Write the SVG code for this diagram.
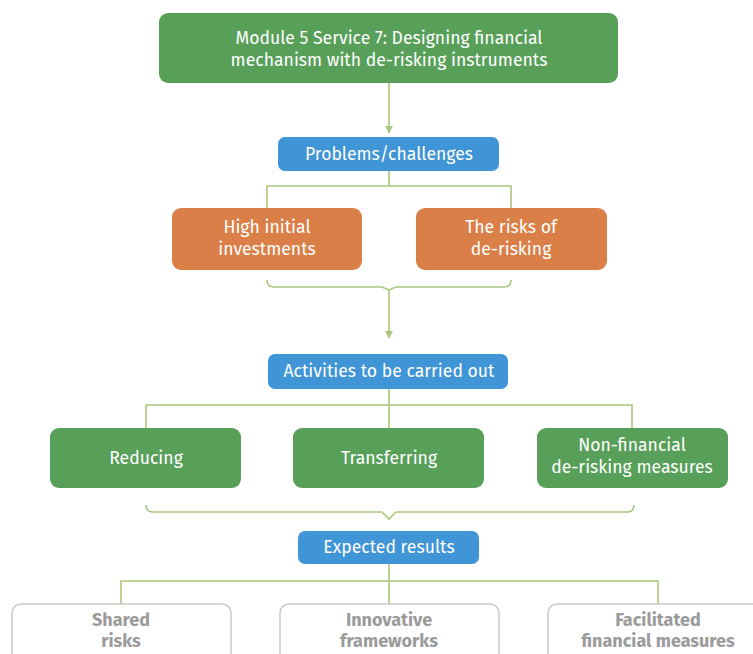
<svg xmlns="http://www.w3.org/2000/svg" width="753" height="654" viewBox="0 0 753 654">
  <defs>
    <style>
      .green { fill: #58a05a; }
      .blue { fill: #3f95d5; }
      .orange { fill: #da7f48; }
      .result { fill: #ffffff; stroke: #c9c9c9; stroke-width: 1.5; }
      .lbl { font-family: "Fira Sans", "Open Sans", "Noto Sans", sans-serif; font-size: 17.6px; fill: #ffffff; text-anchor: middle; }
      .rlbl { font-family: "Fira Sans", "Open Sans", "Noto Sans", sans-serif; font-size: 18px; font-weight: bold; fill: #9b9b9b; text-anchor: middle; }
      .conn { fill: none; stroke: #a9c77c; stroke-width: 1.6; }
    </style>
    <marker id="arrow" viewBox="0 0 10 10" refX="9" refY="5" markerWidth="5" markerHeight="5" orient="auto">
      <path d="M0,0 L10,5 L0,10 z" fill="#a9c77c"/>
    </marker>
  </defs>

  <g id="connectors">
    <line class="conn" x1="389" y1="83" x2="389" y2="133" marker-end="url(#arrow)"/>
    <path class="conn" d="M389,171 V186 M267,208 V186 H511 V208"/>
    <path class="conn" d="M267,280 Q267,287 274,287 H382 L389,290 L396,287 H504 Q511,287 511,280"/>
    <line class="conn" x1="389" y1="290" x2="389" y2="338" marker-end="url(#arrow)"/>
    <path class="conn" d="M389,389 V405 M146,428 V405 H632 V428 M389,405 V428"/>
    <path class="conn" d="M146,505 Q146,512 153,512 H382 L389,519 L396,512 H627 Q634,512 634,505"/>
    <path class="conn" d="M389,564 V581 M121,604 V581 H658 V604 M389,581 V604"/>
  </g>

  <g id="module">
    <rect class="green" x="159" y="13" width="459" height="70" rx="9"/>
    <text class="lbl" x="389" y="44">Module 5 Service 7: Designing financial</text>
    <text class="lbl" x="389" y="66">mechanism with de-risking instruments</text>
  </g>

  <g id="problems">
    <rect class="blue" x="278" y="137" width="221" height="34" rx="7"/>
    <text class="lbl" x="389" y="160">Problems/challenges</text>
  </g>

  <g id="high-initial">
    <rect class="orange" x="172" y="208" width="190" height="62" rx="9"/>
    <text class="lbl" x="267" y="233">High initial</text>
    <text class="lbl" x="267" y="255">investments</text>
  </g>

  <g id="risks-of-derisking">
    <rect class="orange" x="416" y="208" width="191" height="62" rx="9"/>
    <text class="lbl" x="511" y="233">The risks of</text>
    <text class="lbl" x="511" y="255">de-risking</text>
  </g>

  <g id="activities">
    <rect class="blue" x="268" y="354" width="240" height="35" rx="7"/>
    <text class="lbl" x="389" y="377">Activities to be carried out</text>
  </g>

  <g id="reducing">
    <rect class="green" x="50" y="428" width="191" height="60" rx="9"/>
    <text class="lbl" x="146" y="464">Reducing</text>
  </g>

  <g id="transferring">
    <rect class="green" x="293" y="428" width="191" height="60" rx="9"/>
    <text class="lbl" x="389" y="464">Transferring</text>
  </g>

  <g id="non-financial">
    <rect class="green" x="537" y="428" width="191" height="60" rx="9"/>
    <text class="lbl" x="632" y="451">Non-financial</text>
    <text class="lbl" x="632" y="473">de-risking measures</text>
  </g>

  <g id="expected">
    <rect class="blue" x="298" y="531" width="181" height="33" rx="7"/>
    <text class="lbl" x="389" y="553">Expected results</text>
  </g>

  <g id="shared-risks">
    <rect class="result" x="12" y="604" width="219" height="70" rx="9"/>
    <text class="rlbl" x="121" y="626">Shared</text>
    <text class="rlbl" x="121" y="647">risks</text>
  </g>

  <g id="innovative">
    <rect class="result" x="280" y="604" width="219" height="70" rx="9"/>
    <text class="rlbl" x="389" y="626">Innovative</text>
    <text class="rlbl" x="389" y="647">frameworks</text>
  </g>

  <g id="facilitated">
    <rect class="result" x="548" y="604" width="219" height="70" rx="9"/>
    <text class="rlbl" x="658" y="626">Facilitated</text>
    <text class="rlbl" x="658" y="647">financial measures</text>
  </g>
</svg>
